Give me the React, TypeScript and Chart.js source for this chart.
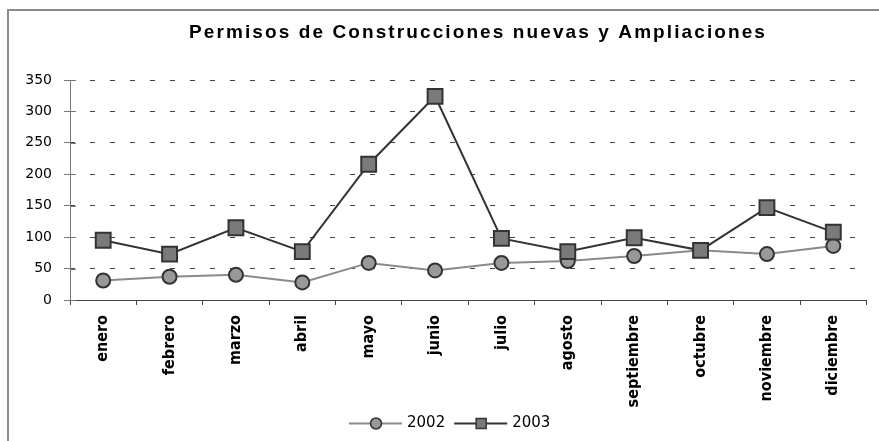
import { useEffect, useRef } from 'react';
import { Chart, registerables } from 'chart.js';

Chart.register(...registerables);

const chartTitle = 'Permisos de Construcciones nuevas y Ampliaciones';
const months = ['enero', 'febrero', 'marzo', 'abril', 'mayo', 'junio', 'julio', 'agosto', 'septiembre', 'octubre', 'noviembre', 'diciembre'];
const seriesNames = ['2002', '2003'];
const values2002 = [31, 37, 40, 28, 59, 47, 59, 62, 70, 79, 73, 86];
const values2003 = [95, 73, 115, 77, 216, 324, 98, 77, 99, 79, 147, 108];
const yMin = 0;
const yMax = 350;
const yStep = 50;

const framePlugin = {
  id: 'frame',
  beforeDraw(chart: any) {
    const { ctx, width, height } = chart;
    ctx.save();
    ctx.fillStyle = '#ffffff';
    ctx.fillRect(0, 0, width, height);
    ctx.fillStyle = '#8c8c8c';
    ctx.fillRect(7, 9, 2, height - 9);
    ctx.fillRect(7, 9, width - 7, 2);
    ctx.restore();
  },
};

const extrasPlugin = {
  id: 'extras',
  afterDraw(chart: any) {
    const { ctx, chartArea } = chart;
    const y = chart.scales.y;
    ctx.save();
    // inner halves of the crossing y tick marks
    ctx.strokeStyle = '#777777';
    ctx.lineWidth = 1;
    y.ticks.forEach((t: any) => {
      const py = Math.round(y.getPixelForValue(t.value)) + 0.5;
      ctx.beginPath();
      ctx.moveTo(chartArea.left, py);
      ctx.lineTo(chartArea.left + 6, py);
      ctx.stroke();
    });
    // title
    ctx.fillStyle = '#000000';
    ctx.font = 'bold 19px "Liberation Sans", Arial, sans-serif';
    (ctx as any).letterSpacing = '2.1px';
    ctx.textAlign = 'center';
    ctx.textBaseline = 'alphabetic';
    ctx.fillText(chartTitle, 478, 38);
    (ctx as any).letterSpacing = '0px';

    // legend
    const ly = 423.5;
    ctx.font = '15px "DejaVu Sans", sans-serif';
    ctx.textAlign = 'left';
    ctx.textBaseline = 'middle';
    let x = 349;
    // item 1
    ctx.strokeStyle = '#8a8a8a';
    ctx.lineWidth = 2;
    ctx.beginPath();
    ctx.moveTo(x, ly);
    ctx.lineTo(x + 53, ly);
    ctx.stroke();
    ctx.beginPath();
    ctx.arc(x + 27, ly, 5.5, 0, Math.PI * 2);
    ctx.fillStyle = '#999999';
    ctx.fill();
    ctx.strokeStyle = '#333333';
    ctx.lineWidth = 1.5;
    ctx.stroke();
    ctx.fillStyle = '#000000';
    ctx.fillText(seriesNames[0], x + 58, ly);
    x = x + 58 + ctx.measureText(seriesNames[0]).width + 9;
    // item 2
    ctx.strokeStyle = '#333333';
    ctx.lineWidth = 2;
    ctx.beginPath();
    ctx.moveTo(x, ly);
    ctx.lineTo(x + 53, ly);
    ctx.stroke();
    ctx.fillStyle = '#7a7a7a';
    ctx.fillRect(x + 22, ly - 5, 10, 10);
    ctx.lineWidth = 1.5;
    ctx.strokeRect(x + 22, ly - 5, 10, 10);
    ctx.fillStyle = '#000000';
    ctx.fillText(seriesNames[1], x + 58, ly);
    ctx.restore();
  },
};

export default function App() {
  const ref = useRef<HTMLCanvasElement | null>(null);

  useEffect(() => {
    if (!ref.current) return;
    const chart = new Chart(ref.current, {
      type: 'line',
      data: {
        labels: months,
        datasets: [
          {
            label: seriesNames[0],
            data: values2002,
            borderColor: '#8a8a8a',
            borderWidth: 2,
            pointStyle: 'circle',
            pointRadius: 7,
            pointBackgroundColor: '#999999',
            pointBorderColor: '#333333',
            pointBorderWidth: 2,
            tension: 0,
            order: 1,
          },
          {
            label: seriesNames[1],
            data: values2003,
            borderColor: '#333333',
            borderWidth: 2,
            pointStyle: 'rect',
            pointRadius: 10.5,
            pointBackgroundColor: '#7a7a7a',
            pointBorderColor: '#333333',
            pointBorderWidth: 2,
            tension: 0,
            order: 0,
          },
        ],
      },
      options: {
        animation: false,
        responsive: false,
        devicePixelRatio: 1,
        layout: { padding: { top: 80, left: 0, right: 9, bottom: 0 } },
        plugins: {
          legend: { display: false },
          title: { display: false },
          tooltip: { enabled: false },
        },
        scales: {
          x: {
            type: 'category',
            offset: true,
            grid: {
              display: true,
              drawOnChartArea: false,
              offset: true,
              tickLength: 5,
              tickColor: '#444444',
              lineWidth: 1,
            },
            border: { display: true, color: '#444444', width: 1 },
            ticks: {
              maxRotation: 90,
              minRotation: 90,
              autoSkip: false,
              padding: 10,
              color: '#000000',
              font: { family: '"DejaVu Sans Condensed", "DejaVu Sans", sans-serif', size: 16, weight: 'bold' },
            },
            afterFit: (s: any) => {
              s.height = 141;
            },
          },
          y: {
            min: yMin,
            max: yMax,
            ticks: {
              stepSize: yStep,
              padding: 12,
              color: '#000000',
              font: { family: '"DejaVu Sans", sans-serif', size: 14 },
            },
            grid: { color: '#444444', lineWidth: 1, tickLength: 6, tickColor: '#777777' },
            border: { display: true, color: '#777777', width: 1, dash: [5, 15], dashOffset: 1 },
            afterFit: (s: any) => {
              s.width = 70;
            },
          },
        },
      },
      plugins: [framePlugin, extrasPlugin],
    });
    return () => chart.destroy();
  }, []);

  return (
    <div style={{ position: 'absolute', left: 0, top: 0, width: 879, height: 441 }}>
      <canvas ref={ref} width={879} height={441} style={{ display: 'block', width: 879, height: 441 }} />
    </div>
  );
}
